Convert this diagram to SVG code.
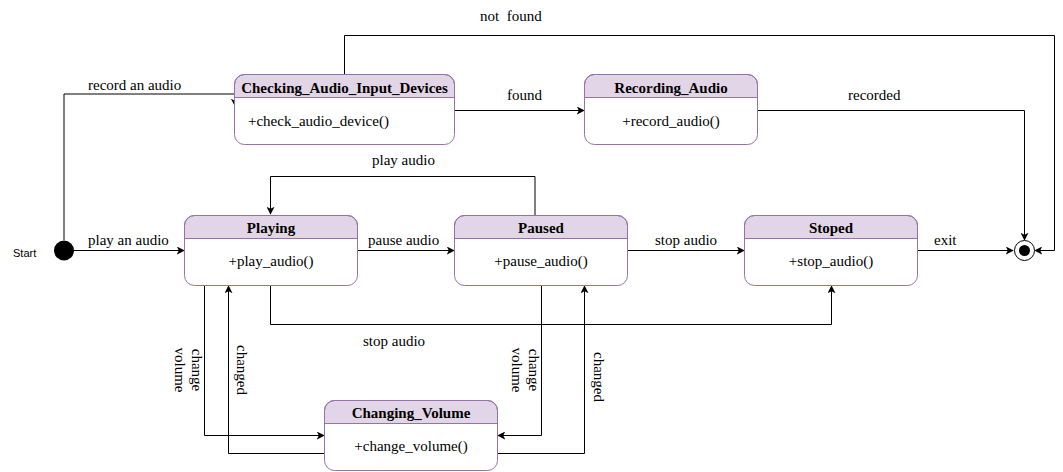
<svg xmlns="http://www.w3.org/2000/svg" width="1063" height="472" viewBox="0 0 1063 472">
<style>
.frame{fill:none;stroke:#9673a6;stroke-width:1}
.bg{fill:#ffffff}
.hdr{fill:#e1d5e7;stroke:#9673a6;stroke-width:1}
.t{font-family:"Liberation Serif","Times New Roman",serif;font-size:15px;fill:#000}
.b{font-weight:bold}
.m{text-anchor:middle}
.e{fill:none;stroke:#000;stroke-width:1}
.s{font-family:"Liberation Sans",Arial,sans-serif;font-size:11px;fill:#000}
</style>
<defs>
<marker id="arr" viewBox="0 0 10 10" refX="9" refY="5" markerWidth="8" markerHeight="8" markerUnits="userSpaceOnUse" orient="auto">
<path d="M0,0 L10,5 L0,10 L2.5,5 Z" fill="#000"/>
</marker>
</defs>
<rect width="1063" height="472" fill="#fff"/>

<g id="connectors">
<path class="e" d="M64,240 V94 H235 V106" marker-end="url(#arr)"/>
<path class="e" d="M344.5,74.5 V35.5 H1054.5 V250.5 H1035" marker-end="url(#arr)"/>
<path class="e" d="M454.5,110.5 H584" marker-end="url(#arr)"/>
<path class="e" d="M757.5,110.5 H1024.5 V240" marker-end="url(#arr)"/>
<path class="e" d="M74,250.5 H184" marker-end="url(#arr)"/>
<path class="e" d="M357.5,250.5 H454" marker-end="url(#arr)"/>
<path class="e" d="M627.5,250.5 H744" marker-end="url(#arr)"/>
<path class="e" d="M917.5,250.5 H1013" marker-end="url(#arr)"/>
<path class="e" d="M535,215 V176.5 H270.5 V214" marker-end="url(#arr)"/>
<path class="e" d="M270.5,285 V324.5 H831.5 V286" marker-end="url(#arr)"/>
<path class="e" d="M204.5,285 V435.5 H324" marker-end="url(#arr)"/>
<path class="e" d="M325,453.5 H228.5 V286" marker-end="url(#arr)"/>
<path class="e" d="M541.5,285 V435.5 H498" marker-end="url(#arr)"/>
<path class="e" d="M497.5,453.5 H584.5 V286" marker-end="url(#arr)"/>

<text class="t" x="88" y="90">record an audio</text>
<text class="t" x="480" y="21" style="white-space:pre">not  found</text>
<text class="t" x="507" y="100">found</text>
<text class="t" x="848" y="100">recorded</text>
<text class="t" x="372" y="165">play audio</text>
<text class="t" x="88" y="245">play an audio</text>
<text class="t" x="368" y="245">pause audio</text>
<text class="t" x="655" y="245">stop audio</text>
<text class="t" x="934" y="245">exit</text>
<text class="t" x="363" y="346">stop audio</text>
<text class="t m" transform="translate(192,370) rotate(90)">change</text>
<text class="t m" transform="translate(175,370) rotate(90)">volume</text>
<text class="t m" transform="translate(237,370) rotate(90)">changed</text>
<text class="t m" transform="translate(529,370) rotate(90)">change</text>
<text class="t m" transform="translate(512,370) rotate(90)">volume</text>
<text class="t m" transform="translate(594,377) rotate(90)">changed</text>
</g>

<g id="start">
<circle cx="64" cy="250.5" r="10" fill="#000"/>
<text class="s" x="13" y="257">Start</text>
</g>

<g id="end">
<circle cx="1024.5" cy="250.5" r="10" fill="#fff" stroke="#000" stroke-width="1"/>
<circle cx="1024.5" cy="250.5" r="5.5" fill="#000"/>
</g>

<g id="checking">
<rect class="bg" x="234.5" y="74.5" width="220" height="70" rx="10"/>
<path class="hdr" d="M234.5,97.5 V84.5 A10,10 0 0 1 244.5,74.5 H444.5 A10,10 0 0 1 454.5,84.5 V97.5 Z"/>
<rect class="frame" x="234.5" y="74.5" width="220" height="70" rx="10"/>
<text class="t b m" x="344.5" y="92.5">Checking_Audio_Input_Devices</text>
<text class="t" x="248" y="125.5">+check_audio_device()</text>
</g>

<g id="recording">
<rect class="bg" x="584.5" y="74.5" width="173" height="70" rx="10"/>
<path class="hdr" d="M584.5,97.5 V84.5 A10,10 0 0 1 594.5,74.5 H747.5 A10,10 0 0 1 757.5,84.5 V97.5 Z"/>
<rect class="frame" x="584.5" y="74.5" width="173" height="70" rx="10"/>
<text class="t b m" x="671" y="92.5">Recording_Audio</text>
<text class="t m" x="671" y="125.5">+record_audio()</text>
</g>

<g id="playing">
<rect class="bg" x="184.5" y="215.5" width="173" height="70" rx="10"/>
<path class="hdr" d="M184.5,238.5 V225.5 A10,10 0 0 1 194.5,215.5 H347.5 A10,10 0 0 1 357.5,225.5 V238.5 Z"/>
<rect class="frame" x="184.5" y="215.5" width="173" height="70" rx="10"/>
<text class="t b m" x="271" y="233">Playing</text>
<text class="t m" x="271" y="266">+play_audio()</text>
</g>

<g id="paused">
<rect class="bg" x="454.5" y="215.5" width="173" height="70" rx="10"/>
<path class="hdr" d="M454.5,238.5 V225.5 A10,10 0 0 1 464.5,215.5 H617.5 A10,10 0 0 1 627.5,225.5 V238.5 Z"/>
<rect class="frame" x="454.5" y="215.5" width="173" height="70" rx="10"/>
<text class="t b m" x="541" y="233">Paused</text>
<text class="t m" x="541" y="266">+pause_audio()</text>
</g>

<g id="stoped">
<rect class="bg" x="744.5" y="215.5" width="173" height="70" rx="10"/>
<path class="hdr" d="M744.5,238.5 V225.5 A10,10 0 0 1 754.5,215.5 H907.5 A10,10 0 0 1 917.5,225.5 V238.5 Z"/>
<rect class="frame" x="744.5" y="215.5" width="173" height="70" rx="10"/>
<text class="t b m" x="831" y="233">Stoped</text>
<text class="t m" x="831" y="266">+stop_audio()</text>
</g>

<g id="changing_volume">
<rect class="bg" x="324.5" y="400.5" width="173" height="70" rx="10"/>
<path class="hdr" d="M324.5,423.5 V410.5 A10,10 0 0 1 334.5,400.5 H487.5 A10,10 0 0 1 497.5,410.5 V423.5 Z"/>
<rect class="frame" x="324.5" y="400.5" width="173" height="70" rx="10"/>
<text class="t b m" x="411" y="418">Changing_Volume</text>
<text class="t m" x="411" y="451">+change_volume()</text>
</g>
</svg>
